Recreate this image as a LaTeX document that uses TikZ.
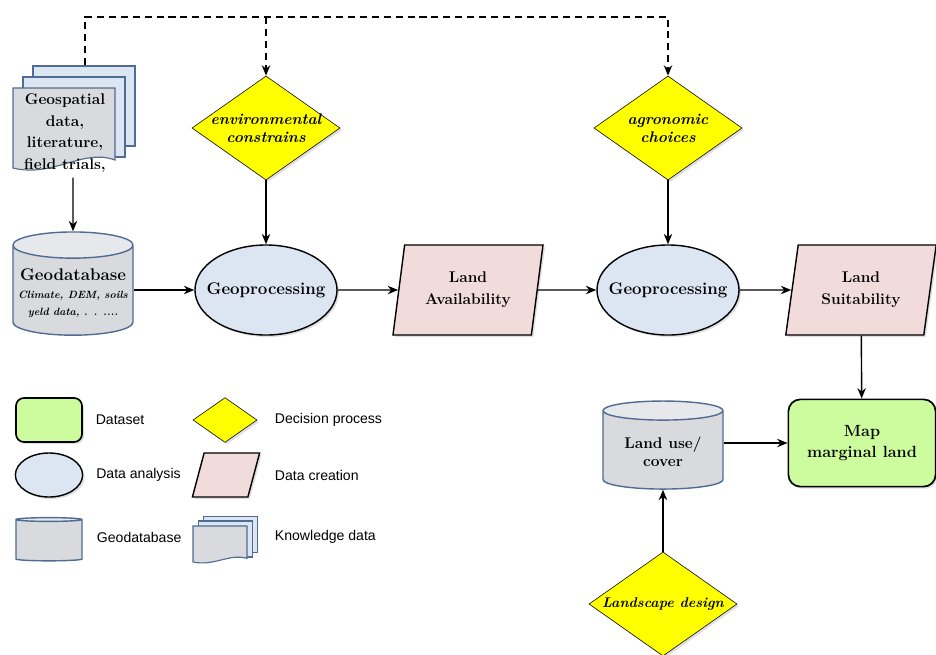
\documentclass[tikz,border=0pt]{standalone}
\usepackage{fontspec}
\usepackage{xcolor}
\usepackage{tikz}
\usetikzlibrary{positioning, shapes.geometric, arrows.meta, calc, shadows}
\newfontfamily\legfont{Liberation Sans}
\definecolor{declyellow}{RGB}{255,255,0}
\definecolor{anblue}{RGB}{220,230,242}
\definecolor{crpink}{RGB}{242,220,219}
\definecolor{dbgray}{RGB}{216,218,222}
\definecolor{dbtop}{RGB}{230,232,236}
\definecolor{dbline}{RGB}{79,108,146}
\definecolor{setgreen}{RGB}{204,252,158}
\tikzset{
  pagedraw/.style={draw=dbline, line width=0.8pt},
  docstack/.pic={
    \draw[pagedraw, fill=anblue] (20,-22) -- (122,-22) -- (122,58) -- (20,58) -- cycle;
    \draw[pagedraw, fill=anblue] (10,-11) -- (112,-11) -- (112,69) -- (10,69) -- cycle;
    \draw[pagedraw, fill=dbgray] (0,0) -- (102,0) -- (102,72)
      .. controls (70,60) and (40,90) .. (0,80) -- cycle;
  }
}

\begin{document}
\begin{tikzpicture}[
  x=0.025cm, y=-0.025cm,
  shade/.style={drop shadow={shadow xshift=0.5mm, shadow yshift=-0.5mm, opacity=0.25}},
  decision/.style={draw, diamond, fill=declyellow, shade, inner xsep=-20pt, inner ysep=-5pt,
                   minimum width=3.7cm, minimum height=2.6cm, align=center,
                   font=\fontsize{11}{13}\selectfont\bfseries\itshape},
  analysis/.style={draw, ellipse, fill=anblue, line width=1pt, shade, inner xsep=-10pt,
                   minimum width=3.55cm, minimum height=2.25cm,
                   font=\fontsize{12}{14}\selectfont\bfseries},
  creation/.style={draw, trapezium, trapezium left angle=79, trapezium right angle=101,
                   trapezium stretches=true, fill=crpink, line width=1pt, shade,
                   minimum width=3.78cm, minimum height=2.25cm, align=center,
                   font=\fontsize{11}{15.5}\selectfont\bfseries},
  geodb/.style={cylinder, shape border rotate=90, aspect=0.22, draw=dbline, line width=1pt,
                cylinder uses custom fill, cylinder body fill=dbgray, cylinder end fill=dbtop,
                minimum width=3cm, align=center, font=\bfseries},
  dataset/.style={draw, rounded corners=3mm, fill=setgreen, line width=1.2pt, shade,
                  minimum width=3.68cm, minimum height=2.18cm, align=center,
                  font=\fontsize{11.5}{15.5}\selectfont\bfseries},
  legtext/.style={font=\legfont\fontsize{10}{12}\selectfont, anchor=west},
  arrow/.style={-{Stealth[length=2.6mm, width=2.1mm]}, line width=1pt},
  dasharrow/.style={-{Stealth[length=2.6mm, width=2.1mm]}, line width=1pt,
                    dash pattern=on 5pt off 3.5pt}
]
  \useasboundingbox (0,0) rectangle (936,654);

  % knowledge data
  \pic at (13,88) {docstack};
  \node[font=\fontsize{11}{15.5}\selectfont\bfseries, align=center] (know) at (65,133)
    {Geospatial\\data,\\literature,\\field trials,};
  \coordinate (kdtop) at (85,65);
  \coordinate (topbar) at (0,17);

  % main row
  \node[geodb, minimum height=2.58cm] (geodb) at (73,293)
    {{\fontsize{12}{13}\selectfont Geodatabase}\\[1pt]
     {\fontsize{7.5}{11}\selectfont\itshape Climate, DEM, soils}\\
     {\fontsize{7.5}{11}\selectfont\itshape yeld data, . . ....}};
  \node[analysis] (geoA) at (266,290) {Geoprocessing};
  \node[creation] (avail) at (468,290) {Land\\Availability};
  \node[analysis] (geoB) at (668,290) {Geoprocessing};
  \node[creation] (suit) at (861,290) {Land\\Suitability};

  \node[decision] (envc) at (266,128) {environmental\\constrains};
  \node[decision] (agro) at (668,128) {agronomic\\choices};

  \node[dataset] (map) at (862,443) {Map\\marginal land};
  \node[geodb, minimum height=2.2cm, font=\fontsize{11}{12.5}\selectfont\bfseries]
    (landuse) at (663,452) {Land use/\\cover};
  \node[decision, font=\fontsize{10}{12}\selectfont\bfseries\itshape] (landscape) at (663,604)
    {Landscape design};

  % connectors
  \draw[arrow] (know.south -| geodb) -- (geodb.north);
  \draw[arrow] (geodb.east |- geoA) -- (geoA.west);
  \draw[arrow] (geoA) -- (avail);
  \draw[arrow] (avail) -- (geoB);
  \draw[arrow] (geoB) -- (suit);
  \draw[arrow] (envc) -- (geoA);
  \draw[arrow] (agro) -- (geoB);
  \draw[arrow] (suit) -- (map);
  \draw[arrow] (landuse.east |- map) -- (map.west);
  \draw[arrow] (landscape) -- (landuse);
  \draw[dasharrow] (kdtop) -- (kdtop |- topbar) -| (agro.north);
  \draw[dasharrow] (envc.north |- topbar) -- (envc.north);

  % legend
  \node[dataset, minimum width=1.65cm, minimum height=1.1cm, rounded corners=2mm] (legset) at (49,420) {};
  \node[legtext, right=2mm of legset] (legsettxt) {Dataset};
  \node[decision, minimum width=1.6cm, minimum height=1.12cm] (legdec) at (225,420) {};
  \node[legtext] (legdectxt) at (270,420) {Decision process};
  \node[analysis, minimum width=1.68cm, minimum height=1.1cm] (legana) at (49,475) {};
  \node[legtext, right=2mm of legana] (leganatxt) {Data analysis};
  \node[creation, minimum width=1.68cm, minimum height=1.1cm, trapezium left angle=75,
        trapezium right angle=105] (legcre) at (226,475) {};
  \node[legtext] (legcretxt) at (270,475) {Data creation};
  \node[geodb, aspect=0.4, minimum width=1.65cm, minimum height=1.08cm] (legdb) at (49,541) {};
  \node[legtext] (legdbtxt) at (92,537) {Geodatabase};
  \pic[xscale=0.53, yscale=0.45] at (193,526) {docstack};
  \node[legtext] (legknowtxt) at (270,537) {Knowledge data};
\end{tikzpicture}
\end{document}
